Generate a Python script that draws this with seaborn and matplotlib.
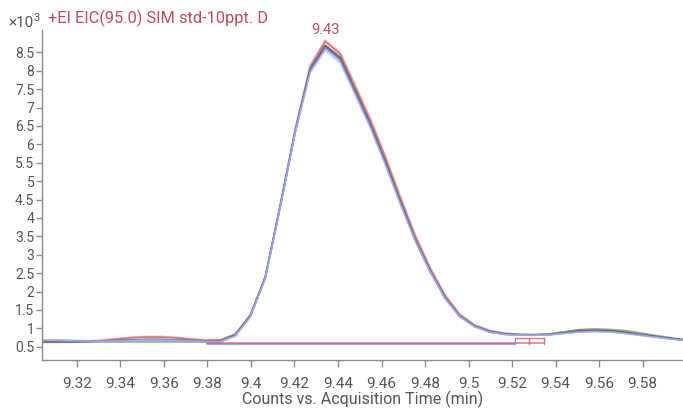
import numpy as np
import pandas as pd
import matplotlib
matplotlib.use("Agg")
import matplotlib.pyplot as plt
import seaborn as sns

# Acquisition times (min), one scan every ~0.0069 min
time_min = [9.3034, 9.3103, 9.3172, 9.3241, 9.3310, 9.3378, 9.3447, 9.3516, 9.3585, 9.3654,
            9.3722, 9.3791, 9.3860, 9.3928, 9.3997, 9.4066, 9.4135, 9.4204, 9.4272, 9.4341,
            9.4410, 9.4479, 9.4548, 9.4616, 9.4685, 9.4754, 9.4823, 9.4892, 9.4960, 9.5029,
            9.5098, 9.5167, 9.5236, 9.5304, 9.5373, 9.5442, 9.5511, 9.5580, 9.5648, 9.5717,
            9.5786, 9.5855, 9.5924, 9.5992]

# Counts (x10^3) for each overlaid injection
counts_pink = [0.62, 0.62, 0.63, 0.65, 0.68, 0.72, 0.76, 0.78, 0.78, 0.76,
               0.72, 0.69, 0.69, 0.85, 1.37, 2.42, 4.38, 6.45, 8.15, 8.83,
               8.50, 7.62, 6.72, 5.72, 4.62, 3.56, 2.66, 1.91, 1.38, 1.09,
               0.94, 0.87, 0.84, 0.83, 0.85, 0.91, 0.97, 0.98, 0.96, 0.91,
               0.85, 0.79, 0.74, 0.69]
counts_red = [0.62, 0.62, 0.62, 0.64, 0.66, 0.70, 0.74, 0.76, 0.76, 0.74,
              0.70, 0.67, 0.68, 0.84, 1.36, 2.40, 4.35, 6.40, 8.10, 8.79,
              8.45, 7.55, 6.65, 5.65, 4.55, 3.50, 2.62, 1.88, 1.36, 1.08,
              0.93, 0.86, 0.83, 0.82, 0.84, 0.90, 0.96, 0.97, 0.95, 0.90,
              0.84, 0.78, 0.73, 0.68]
counts_green = [0.63, 0.63, 0.63, 0.63, 0.63, 0.63, 0.63, 0.63, 0.63, 0.63,
                0.63, 0.63, 0.65, 0.82, 1.34, 2.38, 4.33, 6.36, 8.05, 8.70,
                8.38, 7.48, 6.58, 5.58, 4.48, 3.44, 2.58, 1.84, 1.33, 1.06,
                0.91, 0.85, 0.83, 0.83, 0.85, 0.90, 0.95, 0.97, 0.97, 0.94,
                0.88, 0.81, 0.75, 0.69]
counts_dark = [0.64, 0.64, 0.64, 0.64, 0.65, 0.67, 0.69, 0.70, 0.70, 0.69,
               0.67, 0.65, 0.65, 0.81, 1.33, 2.37, 4.32, 6.35, 8.03, 8.68,
               8.35, 7.45, 6.55, 5.55, 4.46, 3.42, 2.56, 1.83, 1.32, 1.05,
               0.90, 0.84, 0.82, 0.82, 0.83, 0.88, 0.93, 0.94, 0.93, 0.89,
               0.83, 0.78, 0.73, 0.68]
counts_purple = [0.66, 0.66, 0.65, 0.65, 0.65, 0.66, 0.68, 0.69, 0.69, 0.68,
                 0.66, 0.64, 0.64, 0.80, 1.32, 2.38, 4.33, 6.38, 8.02, 8.65,
                 8.32, 7.42, 6.52, 5.52, 4.44, 3.41, 2.55, 1.82, 1.32, 1.05,
                 0.90, 0.84, 0.82, 0.82, 0.83, 0.87, 0.91, 0.92, 0.91, 0.87,
                 0.82, 0.77, 0.72, 0.68]
counts_blue = [0.68, 0.68, 0.67, 0.66, 0.65, 0.66, 0.68, 0.69, 0.69, 0.68,
               0.67, 0.65, 0.64, 0.80, 1.32, 2.38, 4.33, 6.38, 8.00, 8.62,
               8.29, 7.40, 6.50, 5.50, 4.42, 3.40, 2.55, 1.82, 1.32, 1.05,
               0.90, 0.84, 0.82, 0.82, 0.83, 0.87, 0.91, 0.92, 0.91, 0.87,
               0.82, 0.77, 0.72, 0.68]
counts_lightblue = [0.67, 0.67, 0.66, 0.65, 0.65, 0.66, 0.67, 0.68, 0.68, 0.67,
                    0.66, 0.64, 0.64, 0.79, 1.31, 2.36, 4.30, 6.33, 7.94, 8.55,
                    8.22, 7.34, 6.45, 5.46, 4.39, 3.38, 2.53, 1.81, 1.31, 1.04,
                    0.89, 0.83, 0.81, 0.81, 0.82, 0.86, 0.90, 0.91, 0.90, 0.86,
                    0.81, 0.76, 0.71, 0.67]

trace_names = ["pink", "red", "green", "dark", "purple", "blue", "lightblue"]
trace_colors = {"pink": "#f2a3a6", "red": "#d45a64", "green": "#5fa866",
                "dark": "#555555", "purple": "#86509a", "blue": "#6d80d8",
                "lightblue": "#a8b7ec"}
trace_values = [counts_pink, counts_red, counts_green, counts_dark,
                counts_purple, counts_blue, counts_lightblue]

# Integration baselines and peak boundaries
baseline_start = 9.3800
blue_baseline_end = 9.5213
blue_baseline_level = 0.58
red_baseline_end = 9.5347
red_baseline_level = 0.60
red_drop_times = [9.5213, 9.5278, 9.5347]
red_drop_top = 0.745

peak_label = "9.43"
peak_time = 9.4341
peak_height = 8.83

title_text = "+EI EIC(95.0) SIM std-10ppt. D"

frames = []
for name, vals in zip(trace_names, trace_values):
    frames.append(pd.DataFrame({"time": time_min, "counts": vals, "trace": name}))
df = pd.concat(frames, ignore_index=True)

sns.set_theme(style="white")
plt.rcParams["font.family"] = ["Roboto", "DejaVu Sans"]

fig = plt.figure(figsize=(6.83, 4.09), dpi=100)
ax = fig.add_axes([42 / 683, 49 / 409, 641 / 683, 330 / 409])

sns.lineplot(data=df, x="time", y="counts", hue="trace", hue_order=trace_names,
             palette=trace_colors, estimator=None, sort=False, legend=False,
             linewidth=1.2, alpha=0.8, ax=ax)

# integration baselines
ax.plot([baseline_start, blue_baseline_end], [blue_baseline_level] * 2,
        color="#6d80d8", lw=1.1, alpha=0.9)
ax.plot([baseline_start, red_baseline_end], [red_baseline_level] * 2,
        color="#d45a64", lw=1.1, alpha=0.8)
ax.plot([red_drop_times[0], red_drop_times[-1]], [red_drop_top] * 2,
        color="#d45a64", lw=1.0, alpha=0.8)
for t in red_drop_times:
    c = "#6d80d8" if t == red_drop_times[0] else "#d45a64"
    ax.plot([t, t], [blue_baseline_level, red_drop_top], color=c, lw=1.0, alpha=0.85)

ax.annotate(peak_label, xy=(peak_time, peak_height), xytext=(0, 2),
            textcoords="offset points", ha="center", va="bottom",
            color="#b5505c", fontsize=10.5)

ax.set_xlim(9.304, 9.5985)
ax.set_ylim(0.139, 9.106)

xt = [9.32, 9.34, 9.36, 9.38, 9.40, 9.42, 9.44, 9.46, 9.48, 9.50, 9.52, 9.54, 9.56, 9.58]
yt = [0.5, 1, 1.5, 2, 2.5, 3, 3.5, 4, 4.5, 5, 5.5, 6, 6.5, 7, 7.5, 8, 8.5]
ax.set_xticks(xt)
ax.set_xticklabels([f"{v:g}" for v in xt])
ax.set_yticks(yt)
ax.set_yticklabels([f"{v:g}" for v in yt])

for s in ["top", "right"]:
    ax.spines[s].set_visible(False)
for s in ["left", "bottom"]:
    ax.spines[s].set_color("#8a8a8a")
    ax.spines[s].set_linewidth(1.0)
ax.tick_params(axis="x", length=5, width=1, color="#8a8a8a", labelcolor="#555555",
               labelsize=11, pad=7, direction="out", bottom=True)
ax.tick_params(axis="y", length=4, width=1, color="#8a8a8a", labelcolor="#555555",
               labelsize=10, pad=1.5, direction="out", left=True)

ax.set_xlabel("Counts vs. Acquisition Time (min)", color="#555555", fontsize=11.5, labelpad=0)
ax.set_ylabel("")

fig.text(48 / 683, 1 - 18 / 409, title_text, color="#b5505c", fontsize=11.8, va="center", ha="left")
fig.text(8 / 683, 1 - 23 / 409, "×10", color="#555555", fontsize=11, va="center", ha="left")
fig.text(33 / 683, 1 - 18 / 409, "3", color="#555555", fontsize=8, va="center", ha="left")

fig.savefig("out.png", dpi=100)
